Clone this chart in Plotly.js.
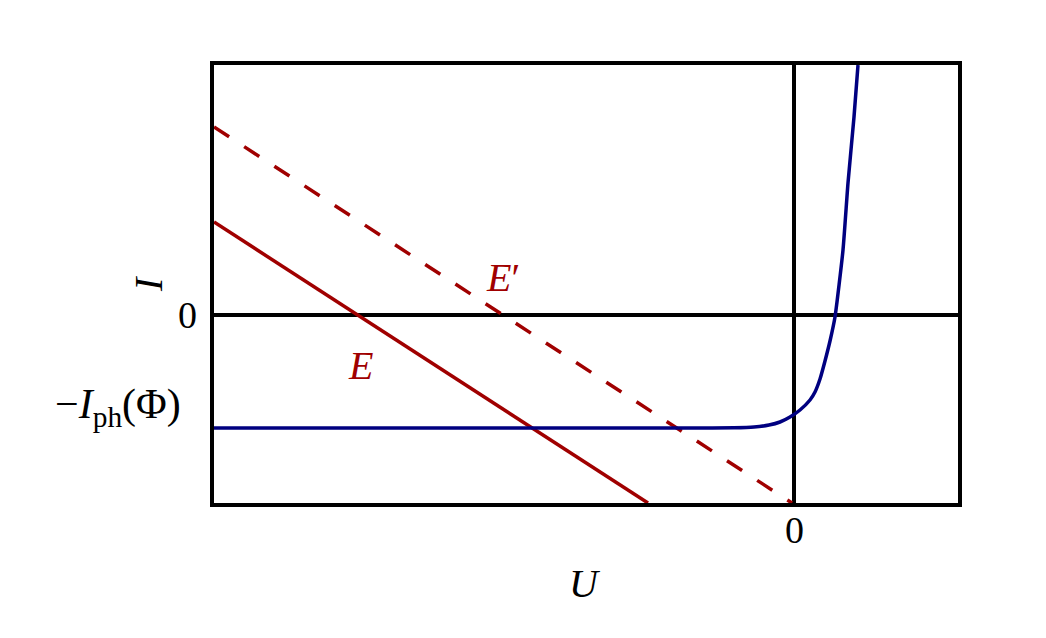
<!DOCTYPE html>
<html>
<head>
<meta charset="utf-8">
<script src="https://cdn.plot.ly/plotly-3.0.1.min.js"></script>
<style>html,body{margin:0;padding:0;background:#fff;}#chart{width:1046px;height:638px;}</style>
</head>
<body>
<div id="chart"></div>
<script>
// Diode characteristic
const diodeU = [-5.8, -1.0, -0.6, -0.4, -0.25, -0.14, -0.04, 0.06, 0.16, 0.21, 0.26, 0.31, 0.36, 0.41, 0.49, 0.54, 0.60, 0.64];
const diodeI = [-1.13, -1.13, -1.128, -1.12, -1.10, -1.07, -1.02, -0.95, -0.85, -0.77, -0.64, -0.46, -0.26, -0.02, 0.65, 1.32, 1.98, 2.50];
// Load line E (solid)
const loadEU = [-5.8, -1.46];
const loadEI = [0.93, -1.88];
// Load line E' (dashed)
const loadE2U = [-5.8, -0.02];
const loadE2I = [1.88, -1.88];
// Tick labels
const xTickVals = [0];
const xTickText = ['0'];
const yTickVals = [0];
const yTickText = ['0'];
const iphLabel = '\u2212<i>I</i><sub>ph</sub>(\u03A6)';

const red = '#a00000';
const navy = '#000080';
const fontFam = 'Liberation Serif, serif';

const traces = [
  {x: loadEU, y: loadEI, mode: 'lines', line: {color: red, width: 3.5}, hoverinfo: 'skip', showlegend: false},
  {x: loadE2U, y: loadE2I, mode: 'lines', line: {color: red, width: 3.5, dash: '18px,18px'}, hoverinfo: 'skip', showlegend: false},
  {x: diodeU, y: diodeI, mode: 'lines', line: {color: navy, width: 3.5, shape: 'spline', smoothing: 0.5}, hoverinfo: 'skip', showlegend: false}
];

const annotations = [];
xTickVals.forEach((v, i) => annotations.push({x: v, xref: 'x', y: -0.0616, yref: 'paper', text: xTickText[i], showarrow: false, xanchor: 'center', yanchor: 'middle', font: {size: 38, color: '#000', family: fontFam}}));
yTickVals.forEach((v, i) => annotations.push({x: -0.0202, xref: 'paper', y: v, yref: 'y', text: yTickText[i], showarrow: false, xanchor: 'right', yanchor: 'middle', font: {size: 38, color: '#000', family: fontFam}}));
annotations.push({x: -0.0417, xref: 'paper', y: -0.92, yref: 'y', text: iphLabel, showarrow: false, xanchor: 'right', yanchor: 'middle', font: {size: 42, color: '#000', family: fontFam}});
annotations.push({x: -2.09, xref: 'x', y: -0.183, yref: 'paper', text: '<i>U</i>', showarrow: false, xanchor: 'center', yanchor: 'middle', font: {size: 40, color: '#000', family: fontFam}});
annotations.push({x: -0.0887, xref: 'paper', y: 0.31, yref: 'y', text: '<i>I</i>', showarrow: false, textangle: -90, xanchor: 'center', yanchor: 'middle', font: {size: 40, color: '#000', family: fontFam}});
annotations.push({x: -2.91, xref: 'x', y: 0.38, yref: 'y', text: '<i>E</i>\u2032', showarrow: false, xanchor: 'center', yanchor: 'middle', font: {size: 40, color: red, family: fontFam}});
annotations.push({x: -4.34, xref: 'x', y: -0.50, yref: 'y', text: '<i>E</i>', showarrow: false, xanchor: 'center', yanchor: 'middle', font: {size: 40, color: red, family: fontFam}});

const layout = {
  width: 1046, height: 638,
  margin: {l: 214, r: 88, t: 65, b: 135},
  paper_bgcolor: '#fff', plot_bgcolor: '#fff',
  font: {family: fontFam, color: '#000'},
  xaxis: {range: [-5.8, 1.64], showgrid: false, zeroline: true, zerolinecolor: '#000', zerolinewidth: 4,
          showline: true, mirror: true, linecolor: '#000', linewidth: 4, showticklabels: false, ticks: '', fixedrange: true},
  yaxis: {range: [-1.88, 2.5], showgrid: false, zeroline: true, zerolinecolor: '#000', zerolinewidth: 4,
          showline: true, mirror: true, linecolor: '#000', linewidth: 4, showticklabels: false, ticks: '', fixedrange: true},
  annotations: annotations
};

Plotly.newPlot('chart', traces, layout, {staticPlot: true, displayModeBar: false});
</script>
</body>
</html>
